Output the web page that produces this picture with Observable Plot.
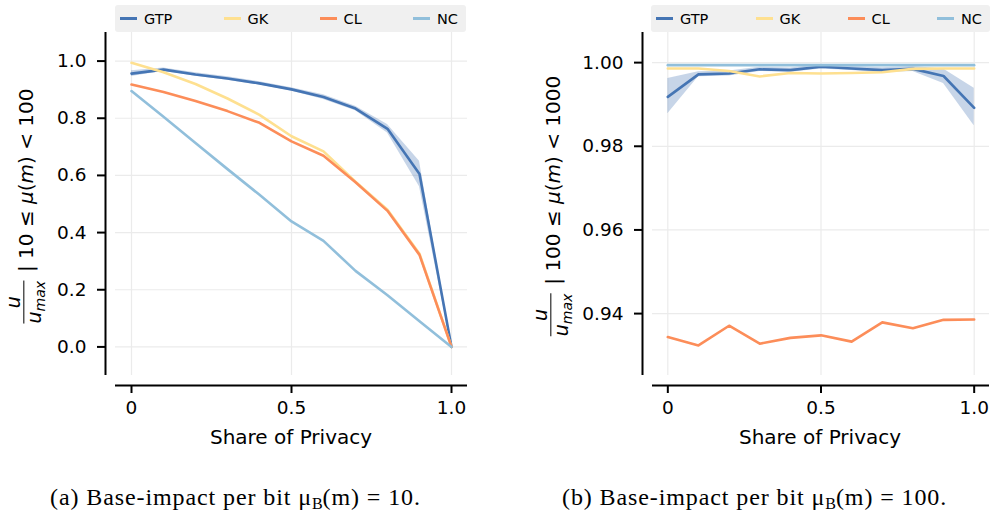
<!DOCTYPE html>
<html>
<head>
<meta charset="utf-8">
<script src="https://cdn.jsdelivr.net/npm/d3@7"></script>
<script src="https://cdn.jsdelivr.net/npm/@observablehq/plot@0.6"></script>
<style>
  html, body { margin: 0; padding: 0; background: #ffffff; }
  #root { position: relative; width: 991px; height: 518px; overflow: hidden; font-family: "DejaVu Sans", sans-serif; color: #000; }
  .panel { position: absolute; top: 0; }
  .legend { position: absolute; top: 5px; height: 27px; background: #f0f0f0; border-radius: 3px;
            display: flex; align-items: center; justify-content: space-between; box-sizing: border-box;
            padding: 0 8px 0 5px; font-size: 14.5px; }
  .item { display: flex; align-items: center; white-space: nowrap; }
  .swatch { display: inline-block; width: 17px; height: 3px; margin-right: 7px; }
  .xlab { position: absolute; transform: translate(-50%, -50%); font-size: 20px; white-space: nowrap; }
  .ylab { position: absolute; transform: translate(-50%, -50%) rotate(-90deg); white-space: nowrap;
          display: flex; align-items: center; font-size: 20px; }
  .frac { display: inline-flex; flex-direction: column; align-items: center; font-style: italic; font-size: 19px; line-height: 0.95; margin-right: 9px; }
  .frac .num { padding: 0 3px 1px 3px; border-bottom: 1.7px solid #000; align-self: stretch; text-align: center; }
  .frac .den { padding-top: 1px; }
  .frac sub { font-size: 14px; vertical-align: -4px; }
  .caption { position: absolute; top: 484px; font-family: "Liberation Serif", serif; font-size: 24px; letter-spacing: 0.9px; white-space: nowrap; }
  .caption sub { font-size: 16px; vertical-align: -4px; letter-spacing: 0; }
</style>
</head>
<body>
<div id="root"></div>
<script>
// ---------- data ----------
const shares = [0, 0.1, 0.2, 0.3, 0.4, 0.5, 0.6, 0.7, 0.8, 0.9, 1.0];
const seriesNames = ["GTP", "GK", "CL", "NC"];
const seriesColors = ["#4575b4", "#fee090", "#fc8d59", "#91bfdb"];

// (a) base impact 10
const gtpA   = [0.956, 0.970, 0.953, 0.939, 0.922, 0.901, 0.874, 0.834, 0.763, 0.605, 0.0];
const gtpALo = [0.946, 0.964, 0.947, 0.933, 0.916, 0.895, 0.866, 0.826, 0.748, 0.560, 0.0];
const gtpAHi = [0.966, 0.976, 0.959, 0.945, 0.928, 0.907, 0.882, 0.842, 0.778, 0.650, 0.0];
const gkA    = [0.994, 0.961, 0.920, 0.869, 0.812, 0.737, 0.684, 0.578, 0.480, 0.326, 0.0];
const clA    = [0.918, 0.892, 0.860, 0.825, 0.784, 0.719, 0.669, 0.576, 0.476, 0.322, 0.0];
const ncA    = [0.895, 0.805, 0.713, 0.622, 0.532, 0.439, 0.371, 0.266, 0.181, 0.090, 0.0];

// (b) base impact 100
const gtpB   = [0.9918, 0.9972, 0.9974, 0.9984, 0.9982, 0.9990, 0.9986, 0.9982, 0.9985, 0.9968, 0.9892];
const gtpBLo = [0.9878, 0.9966, 0.9968, 0.9979, 0.9977, 0.9985, 0.9981, 0.9976, 0.9979, 0.9950, 0.9849];
const gtpBHi = [0.9962, 0.9978, 0.9980, 0.9989, 0.9987, 0.9995, 0.9991, 0.9988, 0.9991, 0.9985, 0.9939];
const gkB    = [0.9986, 0.9986, 0.9980, 0.9967, 0.9975, 0.9974, 0.9975, 0.9977, 0.9985, 0.9986, 0.9986];
const clB    = [0.9344, 0.9324, 0.9371, 0.9328, 0.9342, 0.9348, 0.9333, 0.9379, 0.9365, 0.9385, 0.9386];
const ncB    = [0.9994, 0.9994, 0.9994, 0.9994, 0.9994, 0.9994, 0.9994, 0.9994, 0.9994, 0.9994, 0.9994];

// ticks
const xTicks = [0, 0.5, 1.0];
const xTickLabels = ["0", "0.5", "1.0"];
const yTicksA = [0.0, 0.2, 0.4, 0.6, 0.8, 1.0];
const yTickLabelsA = ["0.0", "0.2", "0.4", "0.6", "0.8", "1.0"];
const yTicksB = [0.94, 0.96, 0.98, 1.00];
const yTickLabelsB = ["0.94", "0.96", "0.98", "1.00"];

const xLabel = "Share of Privacy";
const captionA = '(a) Base-impact per bit μ<sub>B</sub>(m) = 10.';
const captionB = '(b) Base-impact per bit μ<sub>B</sub>(m) = 100.';
const yCondA = '| 10 ≤ <i>μ</i>(<i>m</i>) &lt; 100';
const yCondB = '| 100 ≤ <i>μ</i>(<i>m</i>) &lt; 1000';

// ---------- drawing ----------
const xDomain = [-0.05, 1.05];

function makePanel(cfg) {
  const rows = shares.map((s, i) => ({
    s, gtp: cfg.gtp[i], lo: cfg.lo[i], hi: cfg.hi[i], gk: cfg.gk[i], cl: cfg.cl[i], nc: cfg.nc[i]
  }));
  const yD = cfg.yDomain;
  const grid = "#ebebeb";
  return Plot.plot({
    width: cfg.width, height: 450,
    marginLeft: cfg.marginLeft, marginRight: cfg.marginRight, marginTop: 32, marginBottom: 65,
    insetLeft: 10, insetBottom: 10,
    style: { fontFamily: "DejaVu Sans", fontSize: "18.5px", color: "#000", background: "transparent", overflow: "visible" },
    x: { domain: xDomain },
    y: { domain: yD },
    marks: [
      Plot.ruleY(cfg.yTicks, { y: d => d, x1: () => xDomain[0], x2: () => xDomain[1], stroke: grid, strokeWidth: 1.2 }),
      Plot.ruleX(xTicks, { x: d => d, y1: () => yD[0], y2: () => yD[1], stroke: grid, strokeWidth: 1.2 }),
      Plot.areaY(rows, { x: "s", y1: "lo", y2: "hi", fill: seriesColors[0], fillOpacity: 0.3 }),
      Plot.lineY(rows, { x: "s", y: "gtp", stroke: seriesColors[0], strokeWidth: 2.6 }),
      Plot.lineY(rows, { x: "s", y: "gk", stroke: seriesColors[1], strokeWidth: 2.6 }),
      Plot.lineY(rows, { x: "s", y: "cl", stroke: seriesColors[2], strokeWidth: 2.6 }),
      Plot.lineY(rows, { x: "s", y: "nc", stroke: seriesColors[3], strokeWidth: 2.6 }),
      Plot.axisX(xTicks, { tickFormat: d => xTickLabels[xTicks.indexOf(d)], tickSize: 8, tickPadding: 7,
                           strokeWidth: 2, fontSize: 18.5, label: null }),
      Plot.axisY(cfg.yTicks, { tickFormat: d => cfg.yTickLabels[cfg.yTicks.indexOf(d)], tickSize: 8, tickPadding: 11,
                               strokeWidth: 2, fontSize: 18.5, label: null }),
      Plot.ruleX([xDomain[0]], { x: d => d, dx: -10, y1: () => yD[0], y2: () => yD[1], stroke: "#000", strokeWidth: 2 }),
      Plot.ruleY([yD[0]], { y: d => d, dy: 10, x1: () => xDomain[0], x2: () => xDomain[1], stroke: "#000", strokeWidth: 2 })
    ]
  });
}

const root = document.getElementById("root");

function place(el, left) {
  const wrap = document.createElement("div");
  wrap.className = "panel";
  wrap.style.left = left + "px";
  wrap.appendChild(el);
  root.appendChild(wrap);
}

place(makePanel({ width: 480, marginLeft: 105, marginRight: 13, yDomain: [-0.1, 1.1],
  yTicks: yTicksA, yTickLabels: yTickLabelsA,
  gtp: gtpA, lo: gtpALo, hi: gtpAHi, gk: gkA, cl: clA, nc: ncA }), 0);

place(makePanel({ width: 496, marginLeft: 147, marginRight: 2, yDomain: [0.9252, 1.0072],
  yTicks: yTicksB, yTickLabels: yTickLabelsB,
  gtp: gtpB, lo: gtpBLo, hi: gtpBHi, gk: gkB, cl: clB, nc: ncB }), 495);

function legend(left, width) {
  const lg = document.createElement("div");
  lg.className = "legend";
  lg.style.left = left + "px";
  lg.style.width = width + "px";
  seriesNames.forEach((n, i) => {
    const it = document.createElement("div");
    it.className = "item";
    const sw = document.createElement("span");
    sw.className = "swatch";
    sw.style.background = seriesColors[i];
    it.appendChild(sw);
    it.appendChild(document.createTextNode(n));
    lg.appendChild(it);
  });
  root.appendChild(lg);
}
legend(115, 351);
legend(651, 339);

function text(cls, html, x, y) {
  const d = document.createElement("div");
  d.className = cls;
  d.innerHTML = html;
  d.style.left = x + "px";
  d.style.top = y + "px";
  root.appendChild(d);
  return d;
}
text("xlab", xLabel, 291, 437);
text("xlab", xLabel, 820, 437);

const fracHTML = '<span class="frac"><span class="num">u</span><span class="den">u<sub>max</sub></span></span>';
text("ylab", fracHTML + '<span>' + yCondA + '</span>', 26, 206);
text("ylab", fracHTML + '<span>' + yCondB + '</span>', 553, 206);

text("caption", captionA, 50, 484);
text("caption", captionB, 562, 484);
</script>
</body>
</html>
